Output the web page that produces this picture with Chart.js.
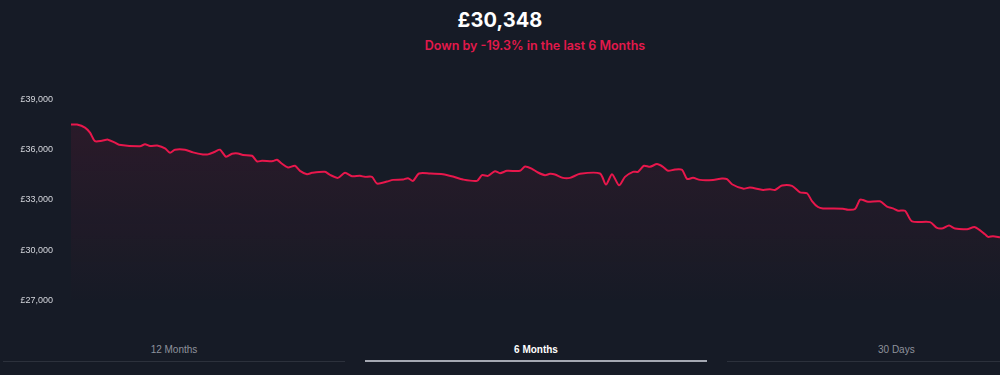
<!DOCTYPE html>
<html>
<head>
<meta charset="utf-8">
<script src="https://cdn.jsdelivr.net/npm/chart.js@4.4.1/dist/chart.umd.min.js"></script>
<style>
  html, body { margin: 0; padding: 0; background: #161b26; width: 1000px; height: 375px; overflow: hidden; }
  #head { position: absolute; top: 0; left: 0; width: 1000px; text-align: center; font-family: Inter, "Liberation Sans", sans-serif; }
  #price { position: absolute; top: 8px; width: 1000px; color: #ffffff; font-size: 20px; font-weight: 700; letter-spacing: 0.1px; }
  #change { position: absolute; top: 38px; left: 35px; width: 1000px; color: #e3194b; font-size: 12.5px; font-weight: 600; }
  #wrap { position: absolute; top: 76px; left: 0; width: 1000px; height: 248px; }
  .tab { position: absolute; top: 344px; width: 342px; text-align: center; font-family: "Liberation Sans", Arial, sans-serif; font-size: 10px; color: #8e929c; }
  .tab .bar { position: absolute; left: 0; right: 0; top: 17px; height: 1px; background: #2c313c; }
  .tab.on { color: #ffffff; font-weight: 700; }
  .tab.on .bar { height: 2px; top: 16px; background: #a4a8b2; }
</style>
</head>
<body>
<div id="head">
  <div id="price">£30,348</div>
  <div id="change">Down by -19.3% in the last 6 Months</div>
</div>
<div id="wrap"><canvas id="price-canvas"></canvas></div>
<div class="tab" style="left:3px">12 Months<div class="bar"></div></div>
<div class="tab on" style="left:365px">6 Months<div class="bar"></div></div>
<div class="tab" style="left:727px;width:273px;text-align:left;"><span style="position:absolute;left:151px">30 Days</span><div class="bar"></div></div>
<script>
/* values (day offset, price in £) */
const days = [0, 1.2, 2.8, 3.8, 4.8, 6.2, 7.4, 8.8, 9.6, 13.8, 14.8, 15.8, 17.4, 18.8, 19.8, 20.8, 22.8, 24.4, 26.4, 27.4,
  28.8, 29.8, 31, 32.2, 33.4, 34.4, 36.2, 37.2, 38.2, 40.4, 41.2, 42.2, 43.4, 44.8, 45.8, 47.2, 48.2, 50.8, 51.8, 53.4,
  54.8, 56.2, 57.8, 58.8, 60.2, 61.2, 63.2, 64.4, 66.4, 67.4, 68.4, 69.6, 71.8, 74.4, 76.4, 78.4, 81.2, 82.2, 83.4, 84.8,
  85.8, 87.2, 89.8, 90.8, 92.2, 93.4, 94.8, 95.8, 96.8, 98.4, 99.8, 101.8, 105.8, 107, 108.2, 109.6, 110.8, 112.4, 113.4, 114.6,
  115.8, 117.2, 118.4, 119.4, 120.8, 122.2, 123.2, 124.4, 125.8, 128.4, 130.2, 131.2, 132.2, 134.4, 135.8, 138.4, 139.8, 140.8, 142.2, 144.2,
  145.8, 147.2, 148.2, 149.4, 150.4, 154.4, 155.4, 156.8, 157.8, 158.4, 159.4, 161.8, 163.2, 164.4, 165.4, 166.8, 168.2, 171.8, 173.2, 174.4,
  175.6, 176.8, 179.2, 180.8, 182.8, 183.4, 184.4, 185.8];
const prices = [37500, 37500, 37320, 37020, 36510, 36540, 36600, 36420, 36300, 36210, 36320, 36220, 36240, 36080, 35820, 36000, 36000, 35840, 35720, 35720,
  35880, 36000, 35580, 35760, 35780, 35680, 35640, 35300, 35340, 35320, 35400, 35160, 34940, 35040, 34740, 34540, 34620, 34680, 34500, 34320,
  34620, 34420, 34440, 34380, 34380, 33980, 34100, 34200, 34220, 34300, 34140, 34580, 34580, 34540, 34400, 34220, 34140, 34480, 34440, 34720,
  34600, 34740, 34740, 35000, 34860, 34640, 34480, 34560, 34520, 34320, 34320, 34560, 34580, 33920, 34540, 33880, 34380, 34680, 34680, 35040,
  34980, 35140, 34980, 34740, 34820, 34800, 34260, 34320, 34200, 34200, 34280, 34240, 33940, 33680, 33740, 33600, 33640, 33600, 33860, 33840,
  33460, 33400, 32940, 32580, 32500, 32480, 32420, 32460, 33020, 33000, 32900, 32920, 32600, 32500, 32360, 32360, 31720, 31680, 31340, 31320,
  31480, 31300, 31260, 31380, 30960, 30800, 30840, 30780];
const yTicks = [27000, 30000, 33000, 36000, 39000];

const ctx = document.getElementById('price-canvas');
const myChart = new Chart(ctx, {
  type: 'line',
  data: {
    datasets: [{
      data: days.map((d, i) => ({x: d, y: prices[i]})),
      borderColor: '#e8174c',
      borderWidth: 2,
      pointRadius: 0,
      tension: 0.25,
      fill: 'start',
      backgroundColor: function(c){
        const area = c.chart.chartArea;
        if(!area) return 'rgba(232,23,76,0.1)';
        const g = c.chart.ctx.createLinearGradient(0, area.top, 0, area.bottom + 10);
        g.addColorStop(0, 'rgba(232,23,76,0.11)');
        g.addColorStop(1, 'rgba(232,23,76,0)');
        return g;
      }
    }]
  },
  options: {
    responsive: true,
    maintainAspectRatio: false,
    animation: false,
    events: [],
    layout: { padding: { top: 9, bottom: 11, left: 0, right: 0 } },
    plugins: { legend: false, tooltip: { enabled: false } },
    scales: {
      x: { type: 'linear', min: 0, max: 185.8, display: false },
      y: {
        min: 27000,
        max: 39000,
        afterFit: function(scale){ scale.width = 71; },
        afterBuildTicks: function(scale){ scale.ticks = yTicks.map(v => ({value: v})); },
        grid: { display: false, drawTicks: false },
        border: { display: false },
        ticks: {
          padding: 18,
          color: '#d4d6dc',
          font: { family: '"Liberation Sans", Arial, sans-serif', size: 9 },
          callback: v => '£' + v.toLocaleString('en-GB')
        }
      }
    }
  }
});
</script>
</body>
</html>
